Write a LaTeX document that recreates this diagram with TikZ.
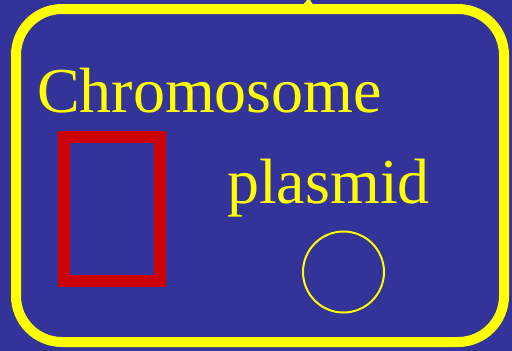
\documentclass[tikz,border=0pt]{standalone}
\usepackage{fontspec}
\setmainfont{Liberation Serif}
\definecolor{bgblue}{HTML}{333399}
\definecolor{yel}{HTML}{FFFF00}
\definecolor{chred}{HTML}{CC0000}
\tikzset{
  lbl/.style={text=yel, font=\fontsize{64}{64}\selectfont, inner sep=0pt, anchor=base west},
  cell/.style={draw=yel, line width=10pt, rounded corners=46pt},
}
\begin{document}
\begin{tikzpicture}[x=1pt,y=-1pt]
\fill[bgblue] (0,0) rectangle (512,351);
\useasboundingbox (0,0) rectangle (512,351);
\draw[cell] (16,9) rectangle (504,342);
\fill[yel] (302,6) -- (307,0) -- (310,0) -- (314,6) -- cycle;
\node[lbl] (chromo) at (37,112.5) {Chromosome};
\node[lbl] (plasmidlbl) at (227,203) {plasmid};
\node[draw=chred, line width=12pt, minimum width=96pt, minimum height=144pt, inner sep=0pt] (chrom) at (112,209) {};
\node[draw=yel, line width=2pt, circle, minimum size=81pt, inner sep=0pt] (plasmid) at (343.5,272) {};
\end{tikzpicture}
\end{document}
